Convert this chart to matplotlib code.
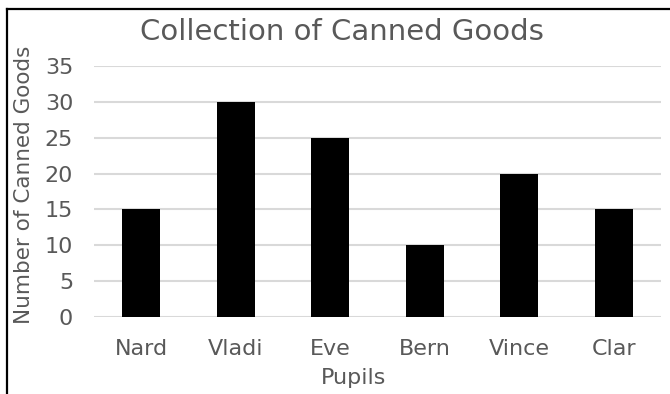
import matplotlib.pyplot as plt
from matplotlib.lines import Line2D
import numpy as np

pupils = ['Nard', 'Vladi', 'Eve', 'Bern', 'Vince', 'Clar']
cans = [15, 30, 25, 10, 20, 15]
yticks = [0, 5, 10, 15, 20, 25, 30, 35]

W, H = 670, 394
grey = '#595959'
plt.rcParams['font.family'] = ['DejaVu Sans']

fig = plt.figure(figsize=(W / 100, H / 100), dpi=100)

# plot area in pixels: left 94, right 661, top 66, bottom 317
ax = fig.add_axes([94 / W, (H - 317) / H, (661 - 94) / W, (317 - 66) / H])
x = np.arange(len(pupils))
ax.bar(x, cans, width=0.4, color='black', zorder=3)
ax.set_xlim(-0.5, len(pupils) - 0.5)
ax.set_ylim(0, 35)
ax.set_yticks(yticks)
ax.set_xticks(x)
ax.set_xticklabels(pupils)
ax.grid(axis='y', color='#d9d9d9', linewidth=1.5, zorder=0)
for s in ax.spines.values():
    s.set_visible(False)
ax.tick_params(length=0, labelsize=16, labelcolor=grey)
ax.tick_params(axis='x', pad=16)
ax.tick_params(axis='y', pad=15)

fig.text(342 / W, 1 - 32 / H, 'Collection of Canned Goods', ha='center', va='center',
         fontsize=21, color=grey)
fig.text(354 / W, 1 - 378 / H, 'Pupils', ha='center', va='center', fontsize=16, color=grey)
fig.text(24 / W, 1 - 185 / H, 'Number of Canned Goods', ha='center', va='center',
         rotation=90, fontsize=15.5, color=grey)

# outer frame, cut off at right and bottom
fig.add_artist(Line2D([6.5 / W, 1], [1 - 8.5 / H, 1 - 8.5 / H], color='black', lw=1.6))
fig.add_artist(Line2D([6.5 / W, 6.5 / W], [0, 1 - 8.5 / H], color='black', lw=1.6))

fig.savefig('out.png', dpi=100)
